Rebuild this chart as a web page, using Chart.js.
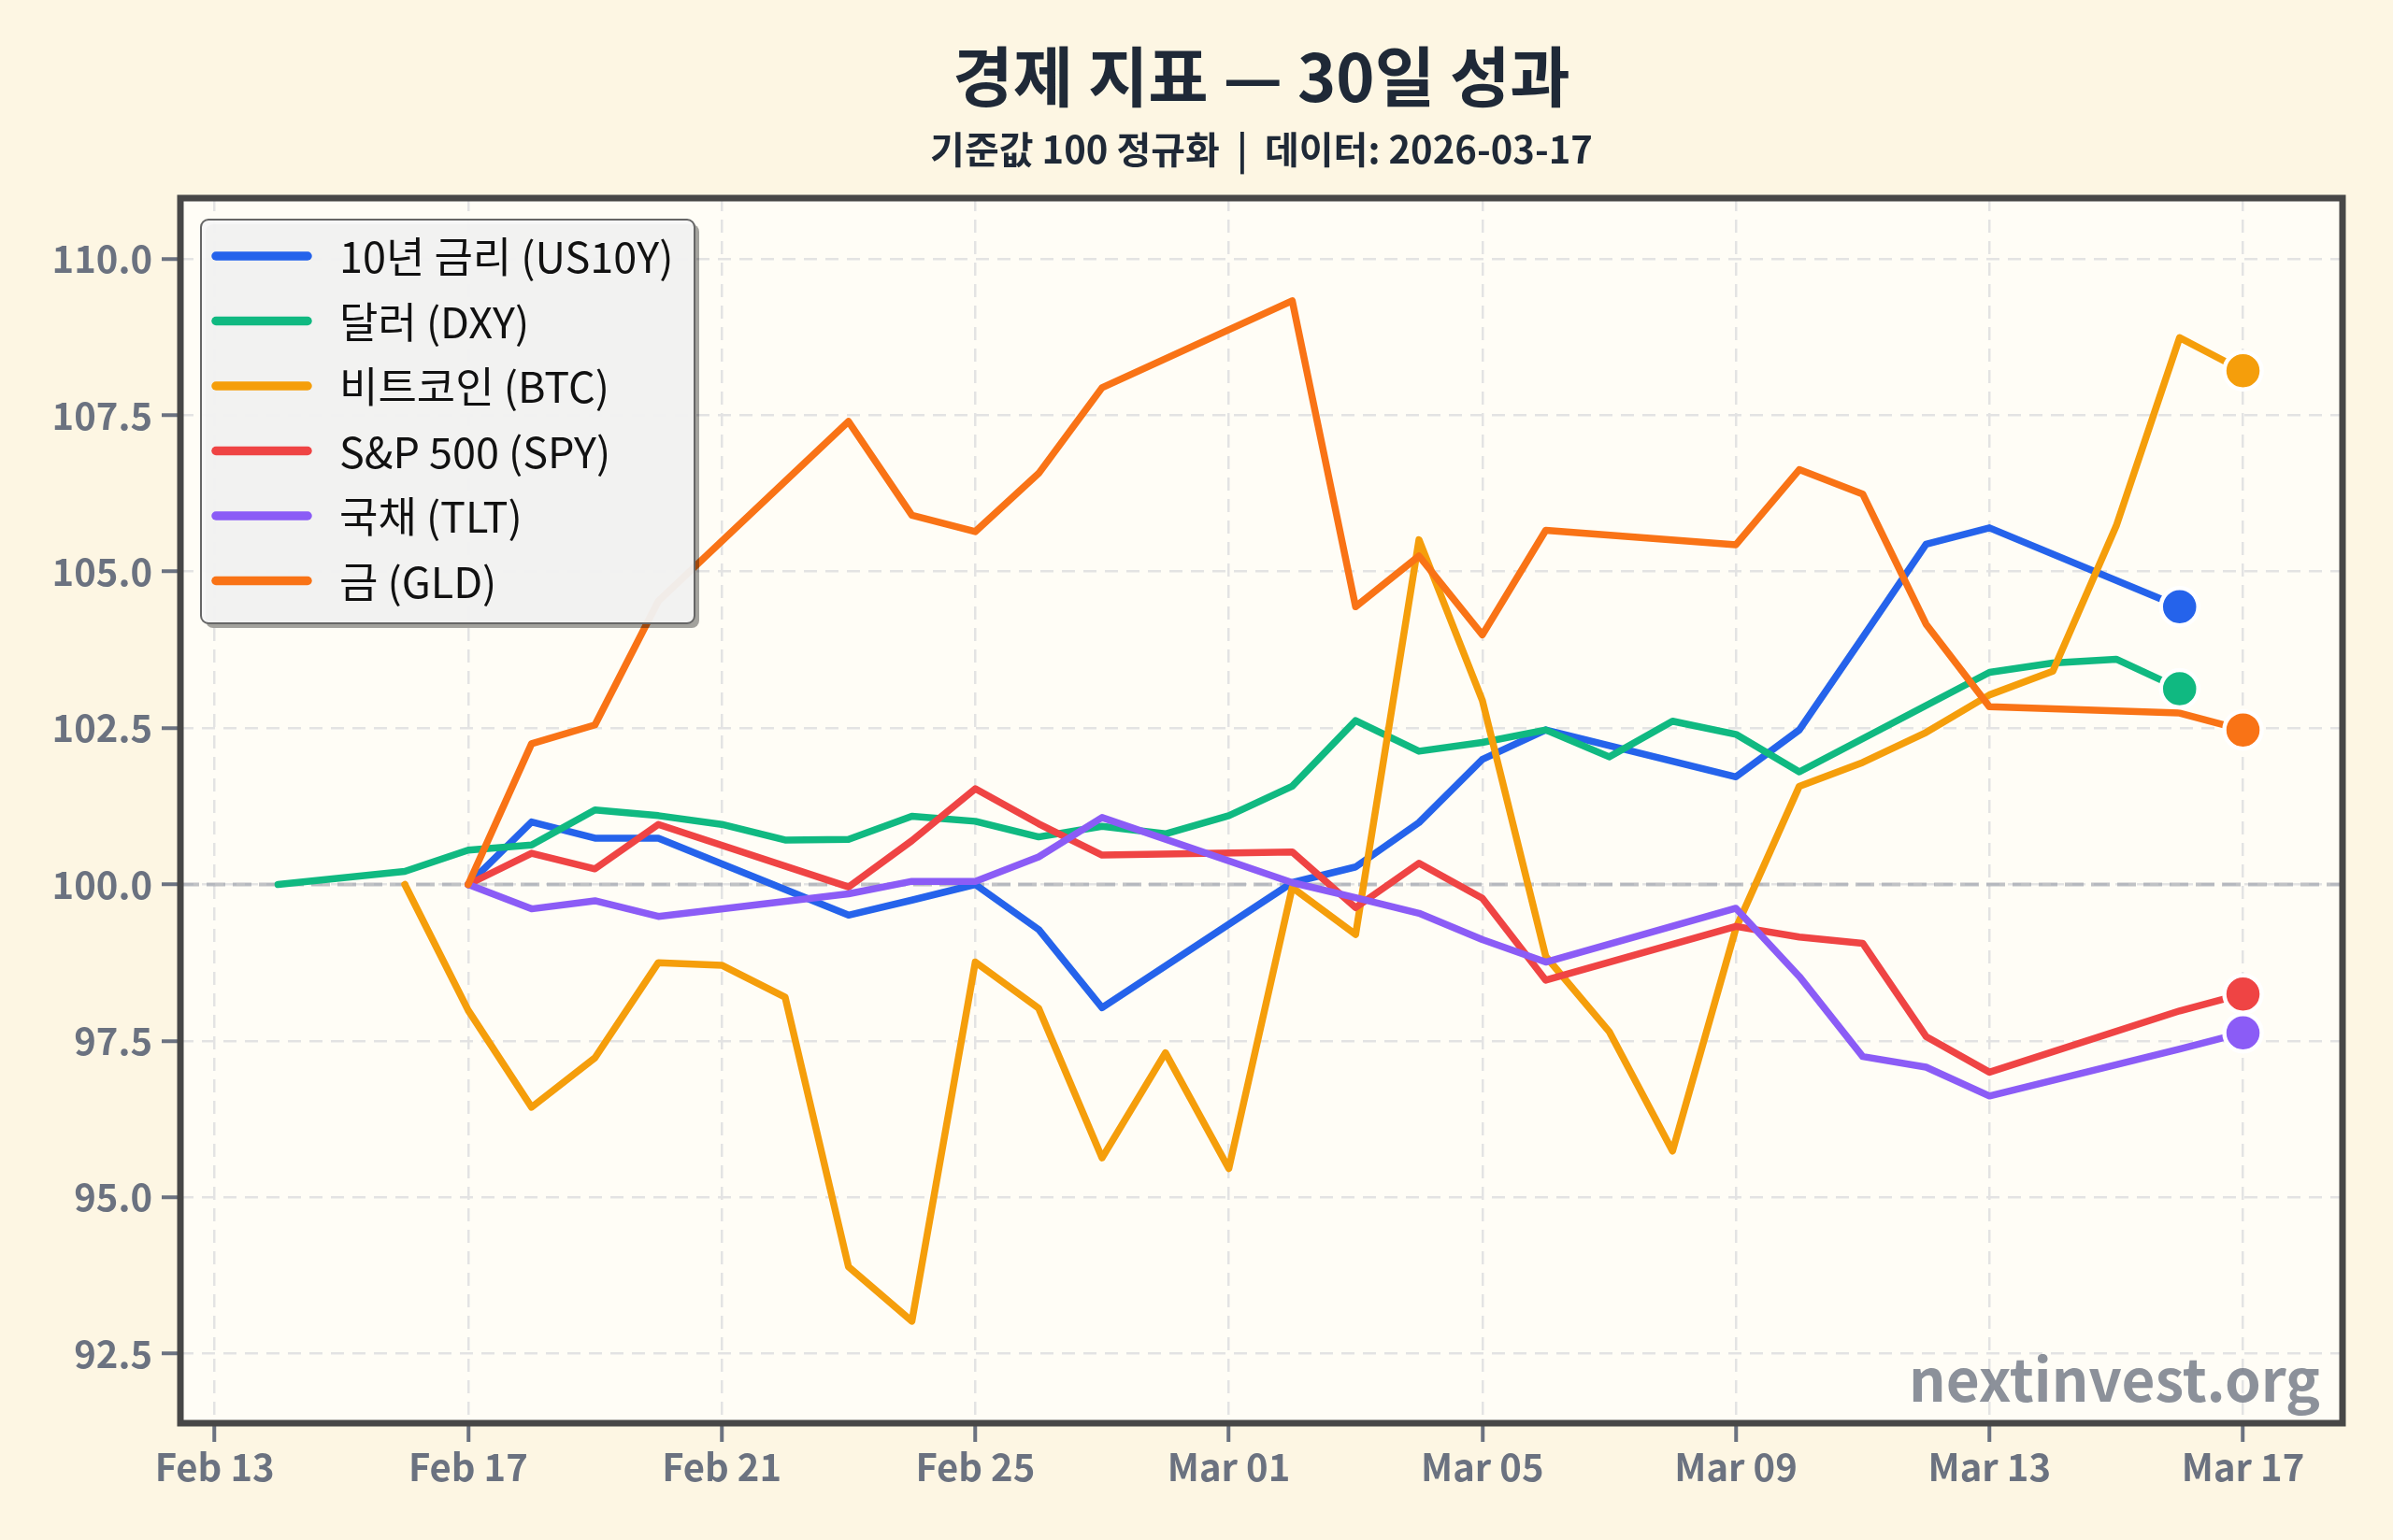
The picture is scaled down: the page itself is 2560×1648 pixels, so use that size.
<!DOCTYPE html>
<html>
<head>
<meta charset="utf-8">
<script src="https://cdn.jsdelivr.net/npm/chart.js@4/dist/chart.umd.min.js"></script>
<style>
html,body{margin:0;padding:0;background:#fdf6e3;}
canvas{display:block;}
</style>
</head>
<body>
<canvas id="c" width="2560" height="1648"></canvas>
<script>
// ---------------- DATA ----------------
const titleText = '경제 지표 — 30일 성과';
const subtitleText = '기준값 100 정규화  |  데이터: 2026-03-17';
const watermarkText = 'nextinvest.org';

const dates = [
  '2026-02-14','2026-02-15','2026-02-16','2026-02-17','2026-02-18','2026-02-19','2026-02-20','2026-02-21',
  '2026-02-22','2026-02-23','2026-02-24','2026-02-25','2026-02-26','2026-02-27','2026-02-28','2026-03-01',
  '2026-03-02','2026-03-03','2026-03-04','2026-03-05','2026-03-06','2026-03-07','2026-03-08','2026-03-09',
  '2026-03-10','2026-03-11','2026-03-12','2026-03-13','2026-03-14','2026-03-15','2026-03-16','2026-03-17'
];

const seriesLabels = ['10년 금리 (US10Y)','달러 (DXY)','비트코인 (BTC)','S&P 500 (SPY)','국채 (TLT)','금 (GLD)'];
const seriesColors = ['#2563eb','#10b981','#f59e0b','#ef4444','#8b5cf6','#f97316'];

const us10y = [null,null,null,100.0,101.0,100.74,100.74,null,null,99.51,99.75,100.0,99.28,98.03,null,null,
  100.03,100.28,100.99,102.0,102.47,null,null,101.72,102.47,103.95,105.44,105.70,null,null,104.44,null];
const dxy = [100.0,null,100.21,100.55,100.63,101.19,101.10,100.96,100.71,100.72,101.09,101.01,100.76,100.93,100.81,101.10,
  101.57,102.62,102.13,102.27,102.47,102.04,102.61,102.40,101.80,102.33,102.86,103.39,103.54,103.60,103.13,null];
const btc = [null,null,100.0,97.99,96.44,97.23,98.75,98.71,98.20,93.89,93.02,98.76,98.02,95.63,97.31,95.46,
  99.95,99.20,105.51,102.94,98.85,97.65,95.74,99.30,101.57,101.95,102.43,103.03,103.41,105.73,108.74,108.21];
const spy = [null,null,null,100.0,100.50,100.25,100.96,null,null,99.96,100.70,101.53,100.97,100.47,null,null,
  100.52,99.63,100.34,99.78,98.47,null,null,99.33,99.16,99.06,97.57,97.00,null,null,97.98,98.25];
const tlt = [null,null,null,100.0,99.61,99.74,99.49,null,null,99.85,100.05,100.05,100.44,101.07,null,null,
  100.03,99.79,99.54,99.12,98.76,null,null,99.62,98.53,97.25,97.08,96.62,null,null,97.37,97.63];
const gld = [null,null,null,100.0,102.25,102.55,104.53,null,null,107.40,105.90,105.64,106.57,107.94,null,null,
  109.33,104.44,105.25,103.99,105.66,null,null,105.43,106.63,106.24,104.16,102.84,null,null,102.74,102.47];

const xTickDates = ['2026-02-13','2026-02-17','2026-02-21','2026-02-25','2026-03-01','2026-03-05','2026-03-09','2026-03-13','2026-03-17'];
const xTickLabels = ['Feb 13','Feb 17','Feb 21','Feb 25','Mar 01','Mar 05','Mar 09','Mar 13','Mar 17'];
const yTicks = [92.5, 95.0, 97.5, 100.0, 102.5, 105.0, 107.5, 110.0];
const baselineValue = 100;

// ---------------- BUILD ----------------
const FONT = "'Noto Sans CJK KR', 'Noto Sans', sans-serif";
const baseDate = Date.parse('2026-02-13T00:00:00Z');
const dayOf = d => (Date.parse(d + 'T00:00:00Z') - baseDate) / 86400000;
const xTickDays = xTickDates.map(dayOf);

const allSeries = [us10y, dxy, btc, spy, tlt, gld];
const lineSets = [];
const endSets = [];
allSeries.forEach((vals, i) => {
  const pts = [];
  dates.forEach((d, k) => { if (vals[k] !== null) pts.push({x: dayOf(d), y: vals[k]}); });
  lineSets.push({
    label: seriesLabels[i],
    data: pts,
    borderColor: seriesColors[i],
    backgroundColor: seriesColors[i],
    borderWidth: 7.5,
    pointRadius: 0,
    pointHoverRadius: 0,
    tension: 0,
    borderCapStyle: 'round',
    borderJoinStyle: 'round',
    order: 20 - i
  });
  endSets.push({
    label: seriesLabels[i] + ' end',
    data: [pts[pts.length - 1]],
    showLine: false,
    pointRadius: 20,
    pointHoverRadius: 20,
    pointBackgroundColor: seriesColors[i],
    pointBorderColor: '#ffffff',
    pointBorderWidth: 4.5,
    order: 5 - i,
    clip: false
  });
});

const bgPlugin = {
  id: 'bg',
  beforeDraw(chart) {
    const {ctx, chartArea: a} = chart;
    ctx.save();
    ctx.fillStyle = '#fdf6e3';
    ctx.fillRect(0, 0, chart.width, chart.height);
    ctx.fillStyle = '#fffdf6';
    ctx.fillRect(a.left, a.top, a.right - a.left, a.bottom - a.top);
    ctx.restore();
  },
  beforeDatasetsDraw(chart) {
    const {ctx, chartArea: a, scales} = chart;
    const y = scales.y.getPixelForValue(baselineValue);
    ctx.save();
    ctx.strokeStyle = 'rgba(150,155,165,0.6)';
    ctx.lineWidth = 4;
    ctx.setLineDash([20, 8]);
    ctx.beginPath();
    ctx.moveTo(a.left, y);
    ctx.lineTo(a.right, y);
    ctx.stroke();
    ctx.setLineDash([]);
    ctx.font = 'bold 62px ' + FONT;
    ctx.fillStyle = 'rgba(107,114,128,0.78)';
    ctx.textAlign = 'right';
    ctx.textBaseline = 'alphabetic';
    ctx.fillText(watermarkText, a.right - 24, a.bottom - 23);
    ctx.restore();
  },
  afterDraw(chart) {
    const {ctx, chartArea: a} = chart;
    ctx.save();
    // legend
    const L = a.left + 22, T = a.top + 23, W = 528, H = 432, r = 8;
    const rr = (x, y, w, h) => { ctx.beginPath(); ctx.roundRect(x, y, w, h, r); };
    ctx.fillStyle = 'rgba(0,0,0,0.36)';
    rr(L + 5, T + 5, W, H); ctx.fill();
    ctx.fillStyle = 'rgba(246,246,247,0.94)';
    rr(L, T, W, H); ctx.fill();
    ctx.strokeStyle = '#666666';
    ctx.lineWidth = 2;
    rr(L, T, W, H); ctx.stroke();
    ctx.font = '45px ' + FONT;
    ctx.textBaseline = 'middle';
    ctx.textAlign = 'left';
    lineSets.forEach((ds, i) => {
      const y = T + 39 + i * 69.5;
      ctx.strokeStyle = ds.borderColor;
      ctx.lineWidth = 9.5;
      ctx.lineCap = 'round';
      ctx.beginPath(); ctx.moveTo(L + 16, y); ctx.lineTo(L + 114, y); ctx.stroke();
      ctx.fillStyle = '#111111';
      ctx.fillText(ds.label, L + 148, y + 1);
    });
    // frame
    ctx.strokeStyle = '#474747';
    ctx.lineWidth = 7;
    ctx.strokeRect(a.left, a.top, a.right - a.left, a.bottom - a.top);
    ctx.restore();
  }
};

const tickFont = {family: FONT, size: 40, weight: 'bold'};

new Chart(document.getElementById('c'), {
  type: 'line',
  data: { datasets: [...lineSets, ...endSets] },
  options: {
    responsive: false,
    devicePixelRatio: 1,
    animation: false,
    layout: { padding: { left: 0, right: 54, top: 0, bottom: 0 } },
    plugins: {
      legend: { display: false },
      tooltip: { enabled: false },
      title: {
        display: true, text: titleText, fullSize: false, color: '#1f2937',
        font: {family: FONT, size: 70, weight: 'bold', lineHeight: 1.2},
        padding: {top: 40, bottom: 0}
      },
      subtitle: {
        display: true, text: subtitleText, fullSize: false, color: '#1f2937',
        font: {family: FONT, size: 40, weight: 'bold', lineHeight: 1.2},
        padding: {top: 12, bottom: 28}
      }
    },
    scales: {
      x: {
        type: 'linear', min: -0.54, max: 33.57,
        afterBuildTicks: s => { s.ticks = xTickDays.map(v => ({value: v})); },
        afterFit: s => { s.height = 125; },
        ticks: {
          callback: v => { const k = xTickDays.indexOf(v); return k >= 0 ? xTickLabels[k] : ''; },
          font: tickFont, color: '#6b7280', padding: 3, maxRotation: 0, autoSkip: false
        },
        grid: { color: '#e3e3e3', lineWidth: 2.5, drawTicks: true, tickLength: 20, tickColor: '#6b7280', tickWidth: 4, tickBorderDash: [] },
        border: { display: false, dash: [14, 9] }
      },
      y: {
        type: 'linear', min: 91.39, max: 110.97,
        afterBuildTicks: s => { s.ticks = yTicks.map(v => ({value: v})); },
        afterFit: s => { s.width = 193; },
        ticks: {
          callback: v => Number(v).toFixed(1),
          font: tickFont, color: '#6b7280', padding: 10
        },
        grid: { color: '#e3e3e3', lineWidth: 2.5, drawTicks: true, tickLength: 20, tickColor: '#6b7280', tickWidth: 4, tickBorderDash: [] },
        border: { display: false, dash: [14, 9] }
      }
    }
  },
  plugins: [bgPlugin]
});
</script>
</body>
</html>
